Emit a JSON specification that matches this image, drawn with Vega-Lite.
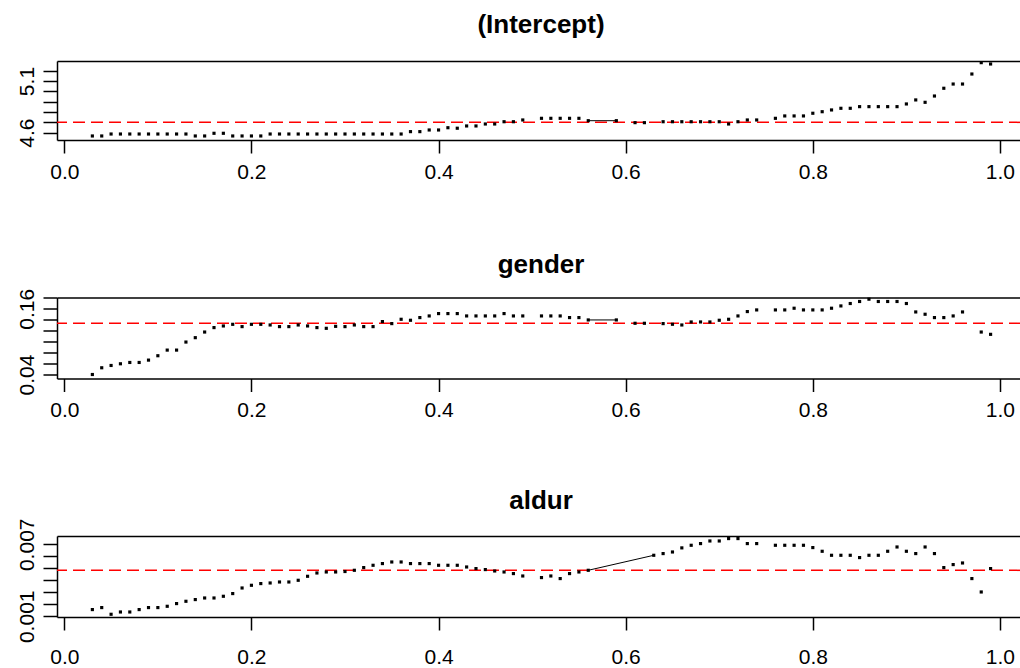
{
  "$schema": "https://vega.github.io/schema/vega-lite/v6.json",
  "background": "white",
  "padding": {"left": 15, "top": 12, "right": 0, "bottom": 0},
  "spacing": 157.5,
  "bounds": "flush",
  "datasets": {
    "ols": [
      {"term": "(Intercept)", "value": 4.70},
      {"term": "gender", "value": 0.1336},
      {"term": "aldur", "value": 0.00483}
    ],
    "coef": [
      {"term": "(Intercept)", "tau": 0.03, "value": 4.568},
      {"term": "(Intercept)", "tau": 0.04, "value": 4.568},
      {"term": "(Intercept)", "tau": 0.05, "value": 4.587},
      {"term": "(Intercept)", "tau": 0.06, "value": 4.587},
      {"term": "(Intercept)", "tau": 0.07, "value": 4.587},
      {"term": "(Intercept)", "tau": 0.08, "value": 4.587},
      {"term": "(Intercept)", "tau": 0.09, "value": 4.587},
      {"term": "(Intercept)", "tau": 0.10, "value": 4.587},
      {"term": "(Intercept)", "tau": 0.11, "value": 4.587},
      {"term": "(Intercept)", "tau": 0.12, "value": 4.587},
      {"term": "(Intercept)", "tau": 0.13, "value": 4.587},
      {"term": "(Intercept)", "tau": 0.14, "value": 4.568},
      {"term": "(Intercept)", "tau": 0.15, "value": 4.568},
      {"term": "(Intercept)", "tau": 0.16, "value": 4.594},
      {"term": "(Intercept)", "tau": 0.17, "value": 4.594},
      {"term": "(Intercept)", "tau": 0.18, "value": 4.568},
      {"term": "(Intercept)", "tau": 0.19, "value": 4.568},
      {"term": "(Intercept)", "tau": 0.20, "value": 4.568},
      {"term": "(Intercept)", "tau": 0.21, "value": 4.568},
      {"term": "(Intercept)", "tau": 0.22, "value": 4.587},
      {"term": "(Intercept)", "tau": 0.23, "value": 4.587},
      {"term": "(Intercept)", "tau": 0.24, "value": 4.587},
      {"term": "(Intercept)", "tau": 0.25, "value": 4.587},
      {"term": "(Intercept)", "tau": 0.26, "value": 4.587},
      {"term": "(Intercept)", "tau": 0.27, "value": 4.587},
      {"term": "(Intercept)", "tau": 0.28, "value": 4.587},
      {"term": "(Intercept)", "tau": 0.29, "value": 4.587},
      {"term": "(Intercept)", "tau": 0.30, "value": 4.587},
      {"term": "(Intercept)", "tau": 0.31, "value": 4.587},
      {"term": "(Intercept)", "tau": 0.32, "value": 4.587},
      {"term": "(Intercept)", "tau": 0.33, "value": 4.587},
      {"term": "(Intercept)", "tau": 0.34, "value": 4.587},
      {"term": "(Intercept)", "tau": 0.35, "value": 4.587},
      {"term": "(Intercept)", "tau": 0.36, "value": 4.587},
      {"term": "(Intercept)", "tau": 0.37, "value": 4.610},
      {"term": "(Intercept)", "tau": 0.38, "value": 4.610},
      {"term": "(Intercept)", "tau": 0.39, "value": 4.626},
      {"term": "(Intercept)", "tau": 0.40, "value": 4.626},
      {"term": "(Intercept)", "tau": 0.41, "value": 4.648},
      {"term": "(Intercept)", "tau": 0.42, "value": 4.643},
      {"term": "(Intercept)", "tau": 0.43, "value": 4.665},
      {"term": "(Intercept)", "tau": 0.44, "value": 4.665},
      {"term": "(Intercept)", "tau": 0.45, "value": 4.684},
      {"term": "(Intercept)", "tau": 0.46, "value": 4.684},
      {"term": "(Intercept)", "tau": 0.47, "value": 4.706},
      {"term": "(Intercept)", "tau": 0.48, "value": 4.706},
      {"term": "(Intercept)", "tau": 0.49, "value": 4.723},
      {"term": "(Intercept)", "tau": 0.51, "value": 4.739},
      {"term": "(Intercept)", "tau": 0.52, "value": 4.739},
      {"term": "(Intercept)", "tau": 0.53, "value": 4.739},
      {"term": "(Intercept)", "tau": 0.54, "value": 4.739},
      {"term": "(Intercept)", "tau": 0.55, "value": 4.739},
      {"term": "(Intercept)", "tau": 0.56, "value": 4.716},
      {"term": "(Intercept)", "tau": 0.59, "value": 4.716},
      {"term": "(Intercept)", "tau": 0.61, "value": 4.697},
      {"term": "(Intercept)", "tau": 0.62, "value": 4.697},
      {"term": "(Intercept)", "tau": 0.64, "value": 4.706},
      {"term": "(Intercept)", "tau": 0.65, "value": 4.706},
      {"term": "(Intercept)", "tau": 0.66, "value": 4.706},
      {"term": "(Intercept)", "tau": 0.67, "value": 4.706},
      {"term": "(Intercept)", "tau": 0.68, "value": 4.706},
      {"term": "(Intercept)", "tau": 0.69, "value": 4.706},
      {"term": "(Intercept)", "tau": 0.70, "value": 4.706},
      {"term": "(Intercept)", "tau": 0.71, "value": 4.684},
      {"term": "(Intercept)", "tau": 0.72, "value": 4.706},
      {"term": "(Intercept)", "tau": 0.73, "value": 4.723},
      {"term": "(Intercept)", "tau": 0.74, "value": 4.723},
      {"term": "(Intercept)", "tau": 0.76, "value": 4.739},
      {"term": "(Intercept)", "tau": 0.77, "value": 4.762},
      {"term": "(Intercept)", "tau": 0.78, "value": 4.762},
      {"term": "(Intercept)", "tau": 0.79, "value": 4.762},
      {"term": "(Intercept)", "tau": 0.80, "value": 4.788},
      {"term": "(Intercept)", "tau": 0.81, "value": 4.803},
      {"term": "(Intercept)", "tau": 0.82, "value": 4.820},
      {"term": "(Intercept)", "tau": 0.83, "value": 4.836},
      {"term": "(Intercept)", "tau": 0.84, "value": 4.836},
      {"term": "(Intercept)", "tau": 0.85, "value": 4.852},
      {"term": "(Intercept)", "tau": 0.86, "value": 4.852},
      {"term": "(Intercept)", "tau": 0.87, "value": 4.852},
      {"term": "(Intercept)", "tau": 0.88, "value": 4.852},
      {"term": "(Intercept)", "tau": 0.89, "value": 4.852},
      {"term": "(Intercept)", "tau": 0.90, "value": 4.878},
      {"term": "(Intercept)", "tau": 0.91, "value": 4.917},
      {"term": "(Intercept)", "tau": 0.92, "value": 4.894},
      {"term": "(Intercept)", "tau": 0.93, "value": 4.955},
      {"term": "(Intercept)", "tau": 0.94, "value": 5.030},
      {"term": "(Intercept)", "tau": 0.95, "value": 5.071},
      {"term": "(Intercept)", "tau": 0.96, "value": 5.071},
      {"term": "(Intercept)", "tau": 0.97, "value": 5.168},
      {"term": "(Intercept)", "tau": 0.98, "value": 5.278},
      {"term": "(Intercept)", "tau": 0.99, "value": 5.265},

      {"term": "gender", "tau": 0.03, "value": 0.0400},
      {"term": "gender", "tau": 0.04, "value": 0.0523},
      {"term": "gender", "tau": 0.05, "value": 0.0565},
      {"term": "gender", "tau": 0.06, "value": 0.0596},
      {"term": "gender", "tau": 0.07, "value": 0.0620},
      {"term": "gender", "tau": 0.08, "value": 0.0620},
      {"term": "gender", "tau": 0.09, "value": 0.0663},
      {"term": "gender", "tau": 0.10, "value": 0.0743},
      {"term": "gender", "tau": 0.11, "value": 0.0846},
      {"term": "gender", "tau": 0.12, "value": 0.0846},
      {"term": "gender", "tau": 0.13, "value": 0.0993},
      {"term": "gender", "tau": 0.14, "value": 0.1073},
      {"term": "gender", "tau": 0.15, "value": 0.1176},
      {"term": "gender", "tau": 0.16, "value": 0.1257},
      {"term": "gender", "tau": 0.17, "value": 0.1287},
      {"term": "gender", "tau": 0.18, "value": 0.1317},
      {"term": "gender", "tau": 0.19, "value": 0.1275},
      {"term": "gender", "tau": 0.20, "value": 0.1317},
      {"term": "gender", "tau": 0.21, "value": 0.1317},
      {"term": "gender", "tau": 0.22, "value": 0.1305},
      {"term": "gender", "tau": 0.23, "value": 0.1275},
      {"term": "gender", "tau": 0.24, "value": 0.1275},
      {"term": "gender", "tau": 0.25, "value": 0.1305},
      {"term": "gender", "tau": 0.26, "value": 0.1287},
      {"term": "gender", "tau": 0.27, "value": 0.1257},
      {"term": "gender", "tau": 0.28, "value": 0.1244},
      {"term": "gender", "tau": 0.29, "value": 0.1280},
      {"term": "gender", "tau": 0.30, "value": 0.1275},
      {"term": "gender", "tau": 0.31, "value": 0.1305},
      {"term": "gender", "tau": 0.32, "value": 0.1275},
      {"term": "gender", "tau": 0.33, "value": 0.1275},
      {"term": "gender", "tau": 0.34, "value": 0.1367},
      {"term": "gender", "tau": 0.35, "value": 0.1330},
      {"term": "gender", "tau": 0.36, "value": 0.1409},
      {"term": "gender", "tau": 0.37, "value": 0.1391},
      {"term": "gender", "tau": 0.38, "value": 0.1440},
      {"term": "gender", "tau": 0.39, "value": 0.1470},
      {"term": "gender", "tau": 0.40, "value": 0.1513},
      {"term": "gender", "tau": 0.41, "value": 0.1513},
      {"term": "gender", "tau": 0.42, "value": 0.1513},
      {"term": "gender", "tau": 0.43, "value": 0.1470},
      {"term": "gender", "tau": 0.44, "value": 0.1470},
      {"term": "gender", "tau": 0.45, "value": 0.1470},
      {"term": "gender", "tau": 0.46, "value": 0.1470},
      {"term": "gender", "tau": 0.47, "value": 0.1513},
      {"term": "gender", "tau": 0.48, "value": 0.1470},
      {"term": "gender", "tau": 0.49, "value": 0.1470},
      {"term": "gender", "tau": 0.51, "value": 0.1470},
      {"term": "gender", "tau": 0.52, "value": 0.1470},
      {"term": "gender", "tau": 0.53, "value": 0.1470},
      {"term": "gender", "tau": 0.54, "value": 0.1440},
      {"term": "gender", "tau": 0.55, "value": 0.1440},
      {"term": "gender", "tau": 0.56, "value": 0.1397},
      {"term": "gender", "tau": 0.59, "value": 0.1397},
      {"term": "gender", "tau": 0.61, "value": 0.1336},
      {"term": "gender", "tau": 0.62, "value": 0.1336},
      {"term": "gender", "tau": 0.64, "value": 0.1330},
      {"term": "gender", "tau": 0.65, "value": 0.1318},
      {"term": "gender", "tau": 0.66, "value": 0.1305},
      {"term": "gender", "tau": 0.67, "value": 0.1360},
      {"term": "gender", "tau": 0.68, "value": 0.1360},
      {"term": "gender", "tau": 0.69, "value": 0.1360},
      {"term": "gender", "tau": 0.70, "value": 0.1391},
      {"term": "gender", "tau": 0.71, "value": 0.1409},
      {"term": "gender", "tau": 0.72, "value": 0.1470},
      {"term": "gender", "tau": 0.73, "value": 0.1550},
      {"term": "gender", "tau": 0.74, "value": 0.1580},
      {"term": "gender", "tau": 0.76, "value": 0.1580},
      {"term": "gender", "tau": 0.77, "value": 0.1580},
      {"term": "gender", "tau": 0.78, "value": 0.1611},
      {"term": "gender", "tau": 0.79, "value": 0.1580},
      {"term": "gender", "tau": 0.80, "value": 0.1580},
      {"term": "gender", "tau": 0.81, "value": 0.1580},
      {"term": "gender", "tau": 0.82, "value": 0.1611},
      {"term": "gender", "tau": 0.83, "value": 0.1653},
      {"term": "gender", "tau": 0.84, "value": 0.1697},
      {"term": "gender", "tau": 0.85, "value": 0.1734},
      {"term": "gender", "tau": 0.86, "value": 0.1776},
      {"term": "gender", "tau": 0.87, "value": 0.1734},
      {"term": "gender", "tau": 0.88, "value": 0.1734},
      {"term": "gender", "tau": 0.89, "value": 0.1734},
      {"term": "gender", "tau": 0.90, "value": 0.1697},
      {"term": "gender", "tau": 0.91, "value": 0.1543},
      {"term": "gender", "tau": 0.92, "value": 0.1501},
      {"term": "gender", "tau": 0.93, "value": 0.1440},
      {"term": "gender", "tau": 0.94, "value": 0.1440},
      {"term": "gender", "tau": 0.95, "value": 0.1470},
      {"term": "gender", "tau": 0.96, "value": 0.1543},
      {"term": "gender", "tau": 0.98, "value": 0.1176},
      {"term": "gender", "tau": 0.99, "value": 0.1134},

      {"term": "aldur", "tau": 0.03, "value": 0.001558},
      {"term": "aldur", "tau": 0.04, "value": 0.001725},
      {"term": "aldur", "tau": 0.05, "value": 0.001167},
      {"term": "aldur", "tau": 0.06, "value": 0.001358},
      {"term": "aldur", "tau": 0.07, "value": 0.001358},
      {"term": "aldur", "tau": 0.08, "value": 0.001558},
      {"term": "aldur", "tau": 0.09, "value": 0.001725},
      {"term": "aldur", "tau": 0.10, "value": 0.001725},
      {"term": "aldur", "tau": 0.11, "value": 0.001833},
      {"term": "aldur", "tau": 0.12, "value": 0.002058},
      {"term": "aldur", "tau": 0.13, "value": 0.002250},
      {"term": "aldur", "tau": 0.14, "value": 0.002392},
      {"term": "aldur", "tau": 0.15, "value": 0.002525},
      {"term": "aldur", "tau": 0.16, "value": 0.002525},
      {"term": "aldur", "tau": 0.17, "value": 0.002667},
      {"term": "aldur", "tau": 0.18, "value": 0.002892},
      {"term": "aldur", "tau": 0.19, "value": 0.003358},
      {"term": "aldur", "tau": 0.20, "value": 0.003583},
      {"term": "aldur", "tau": 0.21, "value": 0.003725},
      {"term": "aldur", "tau": 0.22, "value": 0.003775},
      {"term": "aldur", "tau": 0.23, "value": 0.003858},
      {"term": "aldur", "tau": 0.24, "value": 0.003858},
      {"term": "aldur", "tau": 0.25, "value": 0.004000},
      {"term": "aldur", "tau": 0.26, "value": 0.004333},
      {"term": "aldur", "tau": 0.27, "value": 0.004608},
      {"term": "aldur", "tau": 0.28, "value": 0.004692},
      {"term": "aldur", "tau": 0.29, "value": 0.004692},
      {"term": "aldur", "tau": 0.30, "value": 0.004730},
      {"term": "aldur", "tau": 0.31, "value": 0.004833},
      {"term": "aldur", "tau": 0.32, "value": 0.005058},
      {"term": "aldur", "tau": 0.33, "value": 0.005250},
      {"term": "aldur", "tau": 0.34, "value": 0.005392},
      {"term": "aldur", "tau": 0.35, "value": 0.005525},
      {"term": "aldur", "tau": 0.36, "value": 0.005525},
      {"term": "aldur", "tau": 0.37, "value": 0.005392},
      {"term": "aldur", "tau": 0.38, "value": 0.005392},
      {"term": "aldur", "tau": 0.39, "value": 0.005392},
      {"term": "aldur", "tau": 0.40, "value": 0.005250},
      {"term": "aldur", "tau": 0.41, "value": 0.005250},
      {"term": "aldur", "tau": 0.42, "value": 0.005250},
      {"term": "aldur", "tau": 0.43, "value": 0.005108},
      {"term": "aldur", "tau": 0.44, "value": 0.004975},
      {"term": "aldur", "tau": 0.45, "value": 0.004892},
      {"term": "aldur", "tau": 0.46, "value": 0.004775},
      {"term": "aldur", "tau": 0.47, "value": 0.004692},
      {"term": "aldur", "tau": 0.48, "value": 0.004558},
      {"term": "aldur", "tau": 0.49, "value": 0.004358},
      {"term": "aldur", "tau": 0.51, "value": 0.004225},
      {"term": "aldur", "tau": 0.52, "value": 0.004358},
      {"term": "aldur", "tau": 0.53, "value": 0.004142},
      {"term": "aldur", "tau": 0.54, "value": 0.004558},
      {"term": "aldur", "tau": 0.55, "value": 0.004692},
      {"term": "aldur", "tau": 0.56, "value": 0.004833},
      {"term": "aldur", "tau": 0.63, "value": 0.006083},
      {"term": "aldur", "tau": 0.64, "value": 0.006225},
      {"term": "aldur", "tau": 0.65, "value": 0.006358},
      {"term": "aldur", "tau": 0.66, "value": 0.006700},
      {"term": "aldur", "tau": 0.67, "value": 0.006917},
      {"term": "aldur", "tau": 0.68, "value": 0.007058},
      {"term": "aldur", "tau": 0.69, "value": 0.007275},
      {"term": "aldur", "tau": 0.70, "value": 0.007275},
      {"term": "aldur", "tau": 0.71, "value": 0.007475},
      {"term": "aldur", "tau": 0.72, "value": 0.007475},
      {"term": "aldur", "tau": 0.73, "value": 0.007058},
      {"term": "aldur", "tau": 0.74, "value": 0.007058},
      {"term": "aldur", "tau": 0.76, "value": 0.006917},
      {"term": "aldur", "tau": 0.77, "value": 0.006917},
      {"term": "aldur", "tau": 0.78, "value": 0.006917},
      {"term": "aldur", "tau": 0.79, "value": 0.006917},
      {"term": "aldur", "tau": 0.80, "value": 0.006725},
      {"term": "aldur", "tau": 0.81, "value": 0.006417},
      {"term": "aldur", "tau": 0.82, "value": 0.006083},
      {"term": "aldur", "tau": 0.83, "value": 0.006083},
      {"term": "aldur", "tau": 0.84, "value": 0.006083},
      {"term": "aldur", "tau": 0.85, "value": 0.005892},
      {"term": "aldur", "tau": 0.86, "value": 0.006083},
      {"term": "aldur", "tau": 0.87, "value": 0.006083},
      {"term": "aldur", "tau": 0.88, "value": 0.006417},
      {"term": "aldur", "tau": 0.89, "value": 0.006775},
      {"term": "aldur", "tau": 0.90, "value": 0.006417},
      {"term": "aldur", "tau": 0.91, "value": 0.006225},
      {"term": "aldur", "tau": 0.92, "value": 0.006775},
      {"term": "aldur", "tau": 0.93, "value": 0.006225},
      {"term": "aldur", "tau": 0.94, "value": 0.005058},
      {"term": "aldur", "tau": 0.95, "value": 0.005308},
      {"term": "aldur", "tau": 0.96, "value": 0.005442},
      {"term": "aldur", "tau": 0.97, "value": 0.004142},
      {"term": "aldur", "tau": 0.98, "value": 0.003025},
      {"term": "aldur", "tau": 0.99, "value": 0.004975}
    ]
  },
  "vconcat": [
    {
      "width": 964,
      "height": 79,
      "title": {"text": "(Intercept)", "fontSize": 26, "fontWeight": "bold", "font": "Liberation Sans", "color": "black", "frame": "group", "baseline": "alphabetic", "offset": 2, "dx": 2},
      "resolve": {"axis": {"x": "independent"}},
      "layer": [
        {
          "data": {"name": "ols"},
          "transform": [{"filter": "datum.term == '(Intercept)'"}],
          "mark": {"type": "rule", "color": "#FF0000", "strokeDash": [12, 6], "strokeWidth": 1.5},
          "encoding": {
            "y": {"field": "value", "type": "quantitative", "scale": {"domain": [4.529, 5.294], "nice": false, "zero": false},
                  "axis": {"values": [4.6, 4.7, 4.8, 4.9, 5.0, 5.1, 5.2], "format": ".1f", "labelExpr": "indexof(['4.6','5.1'], datum.label) >= 0 ? datum.label : ''", "title": null}}
          }
        },
        {
          "data": {"name": "coef"},
          "transform": [{"filter": "datum.term == '(Intercept)'"}],
          "mark": {"type": "point", "shape": "square", "filled": true, "size": 10, "color": "black", "opacity": 1},
          "encoding": {
            "x": {"field": "tau", "type": "quantitative", "scale": {"domain": [-0.0078, 1.0225], "nice": false, "zero": false},
                  "axis": {"orient": "bottom", "values": [0, 0.2, 0.4, 0.6, 0.8, 1], "format": ".1f", "title": null}},
            "y": {"field": "value", "type": "quantitative", "scale": {"domain": [4.529, 5.294], "nice": false, "zero": false},
                  "axis": {"values": [4.6, 4.7, 4.8, 4.9, 5.0, 5.1, 5.2], "format": ".1f", "labelExpr": "indexof(['4.6','5.1'], datum.label) >= 0 ? datum.label : ''", "title": null}}
          }
        },
        {
          "data": {"name": "coef"},
          "transform": [{"filter": "datum.term == '(Intercept)' && datum.tau > 0.555 && datum.tau < 0.595"}],
          "mark": {"type": "line", "color": "black", "strokeWidth": 1},
          "encoding": {
            "x": {"field": "tau", "type": "quantitative", "scale": {"domain": [-0.0078, 1.0225], "nice": false, "zero": false},
                  "axis": {"orient": "top", "labels": false, "ticks": false, "title": null}},
            "y": {"field": "value", "type": "quantitative", "scale": {"domain": [4.529, 5.294], "nice": false, "zero": false},
                  "axis": {"values": [4.6, 4.7, 4.8, 4.9, 5.0, 5.1, 5.2], "format": ".1f", "labelExpr": "indexof(['4.6','5.1'], datum.label) >= 0 ? datum.label : ''", "title": null}}
          }
        }
      ]
    },
    {
      "width": 964,
      "height": 81,
      "title": {"text": "gender", "fontSize": 26, "fontWeight": "bold", "font": "Liberation Sans", "color": "black", "frame": "group", "baseline": "alphabetic", "offset": -11, "dx": 2},
      "resolve": {"axis": {"x": "independent"}},
      "layer": [
        {
          "data": {"name": "ols"},
          "transform": [{"filter": "datum.term == 'gender'"}],
          "mark": {"type": "rule", "color": "#FF0000", "strokeDash": [12, 6], "strokeWidth": 1.5},
          "encoding": {
            "y": {"field": "value", "type": "quantitative", "scale": {"domain": [0.0327, 0.1807], "nice": false, "zero": false},
                  "axis": {"values": [0.04, 0.06, 0.08, 0.10, 0.12, 0.14, 0.16, 0.18], "format": ".2f", "labelExpr": "indexof(['0.04','0.16'], datum.label) >= 0 ? datum.label : ''", "title": null}}
          }
        },
        {
          "data": {"name": "coef"},
          "transform": [{"filter": "datum.term == 'gender'"}],
          "mark": {"type": "point", "shape": "square", "filled": true, "size": 10, "color": "black", "opacity": 1},
          "encoding": {
            "x": {"field": "tau", "type": "quantitative", "scale": {"domain": [-0.0078, 1.0225], "nice": false, "zero": false},
                  "axis": {"orient": "bottom", "values": [0, 0.2, 0.4, 0.6, 0.8, 1], "format": ".1f", "title": null}},
            "y": {"field": "value", "type": "quantitative", "scale": {"domain": [0.0327, 0.1807], "nice": false, "zero": false},
                  "axis": {"values": [0.04, 0.06, 0.08, 0.10, 0.12, 0.14, 0.16, 0.18], "format": ".2f", "labelExpr": "indexof(['0.04','0.16'], datum.label) >= 0 ? datum.label : ''", "title": null}}
          }
        },
        {
          "data": {"name": "coef"},
          "transform": [{"filter": "datum.term == 'gender' && datum.tau > 0.555 && datum.tau < 0.595"}],
          "mark": {"type": "line", "color": "black", "strokeWidth": 1},
          "encoding": {
            "x": {"field": "tau", "type": "quantitative", "scale": {"domain": [-0.0078, 1.0225], "nice": false, "zero": false},
                  "axis": {"orient": "top", "labels": false, "ticks": false, "title": null}},
            "y": {"field": "value", "type": "quantitative", "scale": {"domain": [0.0327, 0.1807], "nice": false, "zero": false},
                  "axis": {"values": [0.04, 0.06, 0.08, 0.10, 0.12, 0.14, 0.16, 0.18], "format": ".2f", "labelExpr": "indexof(['0.04','0.16'], datum.label) >= 0 ? datum.label : ''", "title": null}}
          }
        }
      ]
    },
    {
      "width": 964,
      "height": 81,
      "title": {"text": "aldur", "fontSize": 26, "fontWeight": "bold", "font": "Liberation Sans", "color": "black", "frame": "group", "baseline": "alphabetic", "offset": -17, "dx": 2},
      "resolve": {"axis": {"x": "independent"}},
      "layer": [
        {
          "data": {"name": "ols"},
          "transform": [{"filter": "datum.term == 'aldur'"}],
          "mark": {"type": "rule", "color": "#FF0000", "strokeDash": [12, 6], "strokeWidth": 1.5},
          "encoding": {
            "y": {"field": "value", "type": "quantitative", "scale": {"domain": [0.00094, 0.00769], "nice": false, "zero": false},
                  "axis": {"values": [0.001, 0.002, 0.003, 0.004, 0.005, 0.006, 0.007], "format": ".3f", "labelExpr": "indexof(['0.001','0.007'], datum.label) >= 0 ? datum.label : ''", "title": null}}
          }
        },
        {
          "data": {"name": "coef"},
          "transform": [{"filter": "datum.term == 'aldur'"}],
          "mark": {"type": "point", "shape": "square", "filled": true, "size": 10, "color": "black", "opacity": 1},
          "encoding": {
            "x": {"field": "tau", "type": "quantitative", "scale": {"domain": [-0.0078, 1.0225], "nice": false, "zero": false},
                  "axis": {"orient": "bottom", "values": [0, 0.2, 0.4, 0.6, 0.8, 1], "format": ".1f", "labelPadding": 16, "title": null}},
            "y": {"field": "value", "type": "quantitative", "scale": {"domain": [0.00094, 0.00769], "nice": false, "zero": false},
                  "axis": {"values": [0.001, 0.002, 0.003, 0.004, 0.005, 0.006, 0.007], "format": ".3f", "labelExpr": "indexof(['0.001','0.007'], datum.label) >= 0 ? datum.label : ''", "title": null}}
          }
        },
        {
          "data": {"name": "coef"},
          "transform": [{"filter": "datum.term == 'aldur' && datum.tau > 0.555 && datum.tau < 0.635"}],
          "mark": {"type": "line", "color": "black", "strokeWidth": 1},
          "encoding": {
            "x": {"field": "tau", "type": "quantitative", "scale": {"domain": [-0.0078, 1.0225], "nice": false, "zero": false},
                  "axis": {"orient": "top", "labels": false, "ticks": false, "title": null}},
            "y": {"field": "value", "type": "quantitative", "scale": {"domain": [0.00094, 0.00769], "nice": false, "zero": false},
                  "axis": {"values": [0.001, 0.002, 0.003, 0.004, 0.005, 0.006, 0.007], "format": ".3f", "labelExpr": "indexof(['0.001','0.007'], datum.label) >= 0 ? datum.label : ''", "title": null}}
          }
        }
      ]
    }
  ],
  "config": {
    "font": "Liberation Sans",
    "view": {"stroke": null},
    "axis": {
      "grid": false,
      "domainColor": "black",
      "domainWidth": 1.5,
      "tickColor": "black",
      "tickWidth": 1.5,
      "labelColor": "black",
      "labelFont": "Liberation Sans",
      "labelFontSize": 21,
      "labelFlush": false,
      "labelOverlap": false,
      "labelBound": false
    },
    "axisY": {"tickSize": 14, "labelAngle": 270, "labelAlign": "center", "labelBaseline": "alphabetic", "labelPadding": 10},
    "axisX": {"tickSize": 13, "labelPadding": 8}
  }
}
